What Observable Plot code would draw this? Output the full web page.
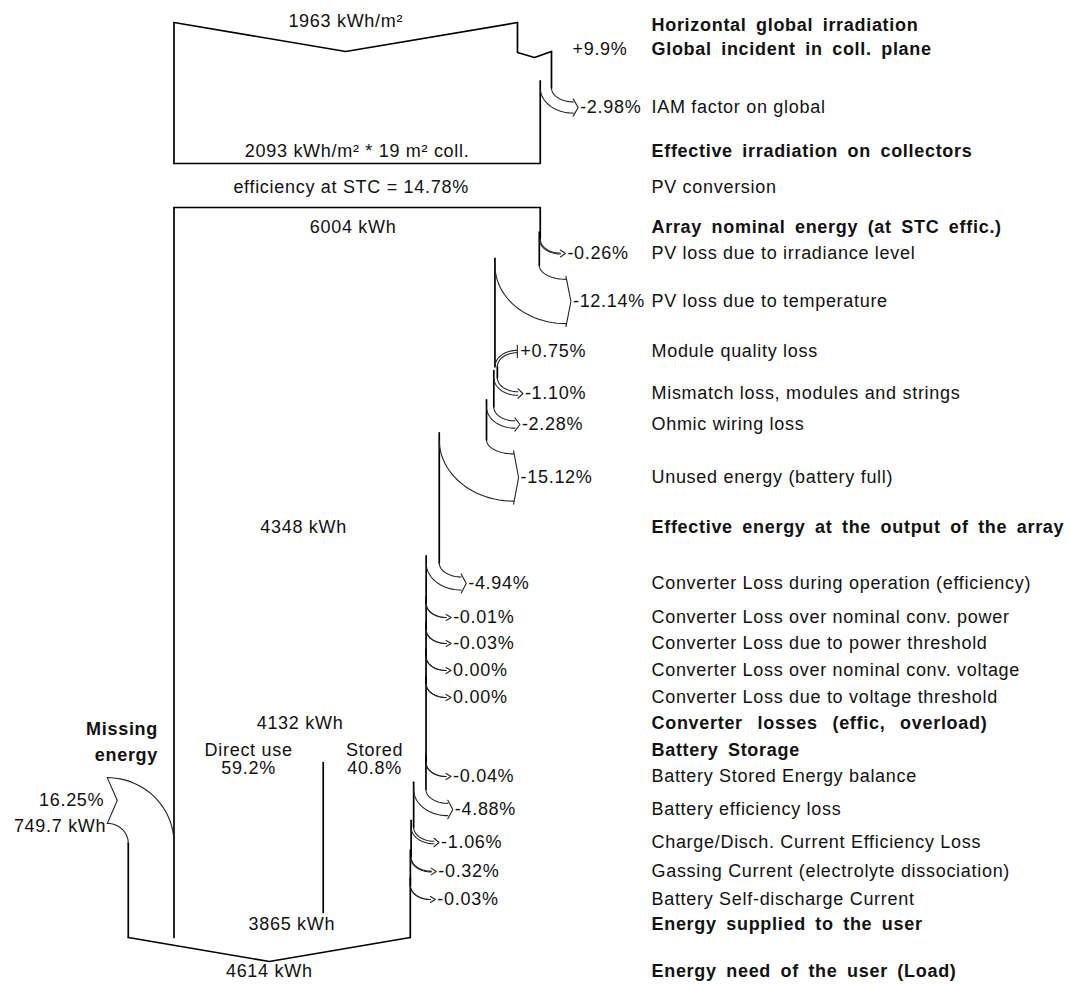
<!DOCTYPE html>
<html>
<head>
<meta charset="utf-8">
<script src="https://cdn.jsdelivr.net/npm/d3@7"></script>
<script src="https://cdn.jsdelivr.net/npm/@observablehq/plot@0.6"></script>
<style>
  body { margin: 0; background: #fff; }
  #chart svg text { letter-spacing: 0.7px; }
  #chart g[font-weight="bold"] text { word-spacing: 3.8px; }
</style>
</head>
<body>
<div id="chart"></div>
<script>
// ================= DATA =================
const stepLabels = [
  "Horizontal global irradiation",
  "Global incident in coll. plane",
  "IAM factor on global",
  "Effective irradiation on collectors",
  "PV conversion",
  "Array nominal energy (at STC effic.)",
  "PV loss due to irradiance level",
  "PV loss due to temperature",
  "Module quality loss",
  "Mismatch loss, modules and strings",
  "Ohmic wiring loss",
  "Unused energy (battery full)",
  "Effective energy at the output of the array",
  "Converter Loss during operation (efficiency)",
  "Converter Loss over nominal conv. power",
  "Converter Loss due to power threshold",
  "Converter Loss over nominal conv. voltage",
  "Converter Loss due to voltage threshold",
  "Converter losses (effic, overload)",
  "Battery Storage",
  "Battery Stored Energy balance",
  "Battery efficiency loss",
  "Charge/Disch. Current Efficiency Loss",
  "Gassing Current (electrolyte dissociation)",
  "Battery Self-discharge Current",
  "Energy supplied to the user",
  "Energy need of the user (Load)"
];
// percentage gain / loss of each step (null = total line, no arrow)
const stepPct = [
  null, "+9.9", "-2.98", null, null, null,
  "-0.26", "-12.14", "+0.75", "-1.10", "-2.28", "-15.12", null,
  "-4.94", "-0.01", "-0.03", "0.00", "0.00", null, null,
  "-0.04", "-4.88", "-1.06", "-0.32", "-0.03", null, null
];
const boldSteps = [0, 1, 3, 5, 12, 18, 19, 25, 26];

const horizontalIrr = 1963;      // kWh/m²
const effectiveIrr = 2093;       // kWh/m²
const collectorArea = 19;        // m²
const stcEfficiency = 14.78;     // %
const arrayNominal = 6004;       // kWh
const arrayOutput = 4348;        // kWh
const converterOutput = 4132;    // kWh
const suppliedEnergy = 3865;     // kWh
const loadEnergy = 4614;         // kWh
const missingEnergy = 749.7;     // kWh
const missingPct = 16.25;        // %
const splitLabels = ["Direct use", "Stored"];
const splitPct = [59.2, 40.8];

// ================= LAYOUT (sizes / positions only) =================
const W = 1071, H = 985;
const K = 0.061;            // px per kWh of flow width
const X0 = 173.5;           // px of the flow's left edge
const px = v => v / K;      // px length -> x-scale units
const rowY = [25, 49, 107, 151, 187, 227, 253, 301, 351, 393, 424, 477, 527,
              583, 617, 643, 670, 697, 723, 750, 776, 809, 842, 871, 899, 924, 971];
const RX = 20, RY = 14, HEAD = 5, S = 7;
const labelColX = px(651 - X0);
const irrTop = 22, irrV = 29, irrBottom = 163, arrayTop = 207, flowBottom = 937, loadV = 24;

// ================= GEOMETRY from the data =================
const main = [], thin = [], pctText = [];
let sid = 0;
function seg(arr, pts) { const id = sid++; pts.forEach(p => arr.push({x: p[0], y: p[1], id})); }
function ell(cx, cy, rx, ry, a0, a1, n = 24) {
  return d3.range(n + 1).map(i => {
    const a = a0 + (a1 - a0) * i / n;
    return [cx + rx * Math.cos(a), cy + ry * Math.sin(a)];
  });
}
function pctString(i) { return stepPct[i] + "%"; }

function loss(R, Rn, i, yS) {
  const yL = rowY[i];
  const dwE = R - Rn, dwP = dwE * K;
  const cy = yL - RY - dwP / 2;
  seg(main, [[R, yS], [R, cy]]);
  const rx = px(RX + 0.15 * dwP);
  const cx = R + rx;
  seg(thin, ell(cx, cy, rx, RY, Math.PI, Math.PI / 2));
  seg(thin, ell(cx, cy, rx + dwE, RY + dwP, Math.PI, Math.PI / 2));
  seg(thin, [[cx, cy + RY - 3], [cx + px(HEAD), yL], [cx, cy + RY + dwP + 3]]);
  pctText.push({x: cx + px(HEAD + 2), y: yL, text: pctString(i)});
  return cy - S;
}
function gain(R, Rn, i, yS) {
  const yL = rowY[i];
  const dwE = Rn - R, dwP = dwE * K;
  const xt = Rn + px(RX);
  const cyy = yL + dwP / 2 + RY;
  seg(main, [[R, yS], [R, cyy]]);
  seg(thin, ell(xt, cyy, px(RX), RY, -Math.PI / 2, -Math.PI));
  seg(thin, ell(xt, cyy, px(RX) + dwE, RY + dwP, -Math.PI / 2, -Math.PI));
  seg(thin, [[xt, yL - dwP / 2 - 5], [xt, yL + dwP / 2 + 5]]);
  pctText.push({x: xt + px(3), y: yL, text: pctString(i)});
  return cyy;
}

// --- irradiation box ---
const irrChain = [horizontalIrr];
irrChain.push(irrChain[0] * (1 + +stepPct[1] / 100));
irrChain.push(irrChain[1] * (1 + +stepPct[2] / 100));
const fIrr = arrayNominal / irrChain[2];
const eH = irrChain[0] * fIrr, eG = irrChain[1] * fIrr, eE = irrChain[2] * fIrr;
seg(main, [[0, irrTop], [eH / 2, irrTop + irrV], [eH, irrTop]]);
seg(main, [[0, irrTop], [0, irrBottom]]);
seg(main, [[eH, irrTop], [eH, irrTop + 30], [(eH + eG) / 2, irrTop + 35], [eG, irrTop + 29]]);
pctText.push({x: eG + px(21), y: rowY[1], text: pctString(1)});
let yS = loss(eG, eE, 2, irrTop + 29);
seg(main, [[eE, yS], [eE, irrBottom], [0, irrBottom]]);

// --- energy flow ---
let R = arrayNominal;
seg(main, [[0, arrayTop], [R, arrayTop]]);
seg(main, [[0, arrayTop], [0, flowBottom]]);
yS = arrayTop;
const energyAt = {};
for (let i = 6; i <= 24; i++) {
  energyAt[i] = R;
  if (stepPct[i] == null) continue;
  const p = +stepPct[i];
  const Rn = R * (1 + p / 100);
  yS = p > 0 ? gain(R, Rn, i, yS) : loss(R, Rn, i, yS);
  R = Rn;
}
const Rend = R;
seg(main, [[Rend, yS], [Rend, flowBottom]]);

// --- missing energy (incoming from the left) ---
const Lnew = -missingEnergy;
const mdwP = missingEnergy * K;
const mRX = 21, mRY = 20;
const xt = Lnew - px(mRX);
const yc = 800 + mdwP / 2;
seg(thin, ell(xt, yc + mRY, px(mRX), mRY, -Math.PI / 2, 0));
seg(thin, ell(xt, yc + mRY, px(mRX) + missingEnergy, mRY + mdwP, -Math.PI / 2, 0));
seg(thin, [[xt, yc - mdwP], [xt + px(10), yc - mdwP / 2], [xt, yc]]);
seg(main, [[Lnew, yc + mRY], [Lnew, flowBottom]]);
seg(main, [[Lnew, flowBottom], [(Lnew + Rend) / 2, flowBottom + loadV], [Rend, flowBottom]]);

// --- direct use / stored split ---
const eConv = energyAt[19];
const xs = eConv * splitPct[0] / 100;
seg(main, [[xs, 762], [xs, 912]]);

// ================= TEXTS =================
const rightLabels = stepLabels.map((t, i) => ({x: labelColX, y: rowY[i], text: t, bold: boldSteps.includes(i)}));
const centerTexts = [
  {x: eH / 2, y: 21, text: `${horizontalIrr} kWh/m²`},
  {x: eE / 2, y: rowY[3], text: `${effectiveIrr} kWh/m² * ${collectorArea} m² coll.`},
  {x: eE / 2 - px(6), y: rowY[4], text: `efficiency at STC = ${stcEfficiency}%`},
  {x: arrayNominal / 2 - px(4), y: rowY[5], text: `${arrayNominal} kWh`},
  {x: arrayOutput / 2 - px(3), y: rowY[12], text: `${arrayOutput} kWh`},
  {x: converterOutput / 2, y: rowY[18], text: `${converterOutput} kWh`},
  {x: xs / 2, y: rowY[19], text: splitLabels[0]},
  {x: xs / 2, y: rowY[19] + 18, text: splitPct[0].toFixed(1) + "%"},
  {x: (xs + eConv) / 2, y: rowY[19], text: splitLabels[1]},
  {x: (xs + eConv) / 2, y: rowY[19] + 18, text: splitPct[1].toFixed(1) + "%"},
  {x: suppliedEnergy / 2, y: rowY[25], text: `${suppliedEnergy} kWh`},
  {x: (Lnew + Rend) / 2, y: rowY[26], text: `${loadEnergy} kWh`}
];
const missingTexts = [
  {x: xt - px(3), y: yc - mdwP / 2, text: missingPct.toFixed(2) + "%"},
  {x: xt - px(1), y: yc + 3, text: `${missingEnergy} kWh`}
];
const missingTitle = [
  {x: px(-16), y: 729, text: "Missing"},
  {x: px(-16), y: 755, text: "energy"}
];

const ink = "#111";
const chart = Plot.plot({
  width: W, height: H,
  margin: 0,
  style: {fontFamily: "'Liberation Sans', Arial, sans-serif", background: "#fff"},
  x: {domain: [px(-X0), px(W - X0)], range: [0, W], axis: null},
  y: {domain: [0, H], range: [0, H], axis: null},
  marks: [
    Plot.line(main, {x: "x", y: "y", z: "id", stroke: "#000", strokeWidth: 1.7, strokeLinejoin: "miter"}),
    Plot.line(thin, {x: "x", y: "y", z: "id", stroke: "#222", strokeWidth: 1.1}),
    Plot.text(rightLabels.filter(d => !d.bold), {x: "x", y: "y", text: "text", textAnchor: "start", fontSize: 18, fill: ink}),
    Plot.text(rightLabels.filter(d => d.bold), {x: "x", y: "y", text: "text", textAnchor: "start", fontSize: 18, fontWeight: "bold", fill: ink}),
    Plot.text(pctText, {x: "x", y: "y", text: "text", textAnchor: "start", fontSize: 18, fill: ink}),
    Plot.text(centerTexts, {x: "x", y: "y", text: "text", textAnchor: "middle", fontSize: 18, fill: ink}),
    Plot.text(missingTexts, {x: "x", y: "y", text: "text", textAnchor: "end", fontSize: 18, fill: ink}),
    Plot.text(missingTitle, {x: "x", y: "y", text: "text", textAnchor: "end", fontSize: 18, fontWeight: "bold", fill: ink})
  ]
});
document.getElementById("chart").appendChild(chart);
// the "Converter losses" title is justified wider in the original
d3.select(chart).selectAll("text")
  .filter(function () { return this.textContent === stepLabels[18]; })
  .style("word-spacing", "9px");
</script>
</body>
</html>
